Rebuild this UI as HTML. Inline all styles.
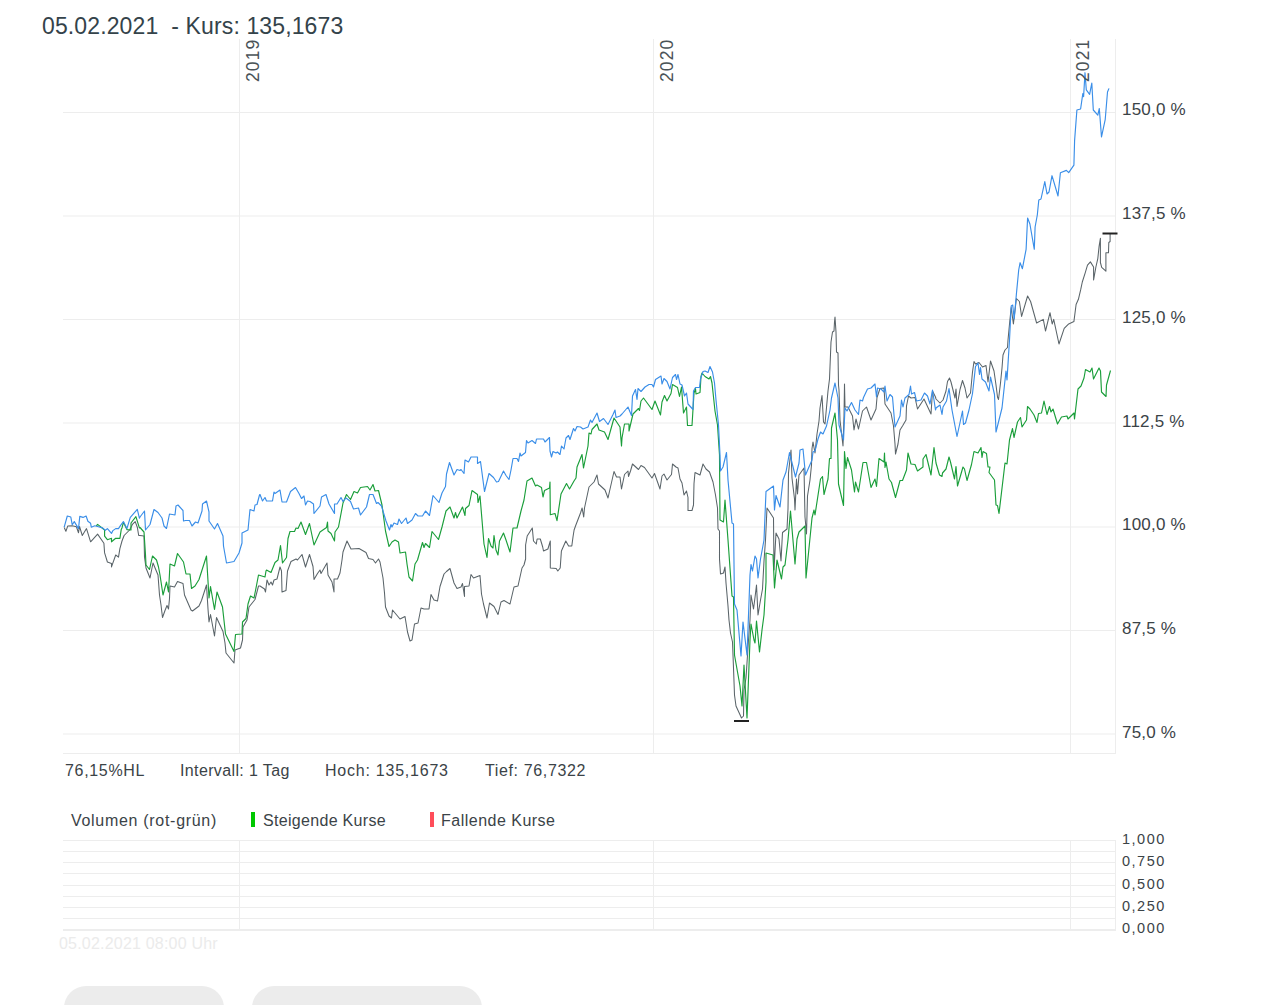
<!DOCTYPE html>
<html><head><meta charset="utf-8">
<style>
html,body{margin:0;padding:0;background:#fff;width:1262px;height:1005px;overflow:hidden;position:relative;font-family:"Liberation Sans",sans-serif;}
.t{position:absolute;white-space:pre;line-height:1;}
.title{left:42px;top:14.5px;font-size:23px;color:#34434a;letter-spacing:0.12px;}
.ax{font-size:17px;color:#3b4347;letter-spacing:0.2px;}
.info{font-size:16px;color:#3b4347;}
.vl{font-size:14.5px;color:#3b4347;letter-spacing:1.5px;}
.yr{font-size:17.5px;color:#4a5357;letter-spacing:1.1px;transform-origin:0 0;transform:rotate(-90deg);}
.btn{position:absolute;background:#ececec;border-radius:22px;top:986px;height:60px;}
</style></head><body>
<svg width="1262" height="1005" style="position:absolute;left:0;top:0">
<g stroke="#ededed" stroke-width="1" fill="none">
<line x1="63" y1="112.5" x2="1116" y2="112.5"/>
<line x1="63" y1="216" x2="1116" y2="216"/>
<line x1="63" y1="319.5" x2="1116" y2="319.5"/>
<line x1="63" y1="423" x2="1116" y2="423"/>
<line x1="63" y1="527" x2="1116" y2="527"/>
<line x1="63" y1="630.5" x2="1116" y2="630.5"/>
<line x1="63" y1="734" x2="1116" y2="734"/>
<line x1="239.5" y1="39" x2="239.5" y2="754"/>
<line x1="653.5" y1="39" x2="653.5" y2="754"/>
<line x1="1070.5" y1="39" x2="1070.5" y2="754"/>
<line x1="1115.5" y1="39" x2="1115.5" y2="754"/>
<line x1="63" y1="753.5" x2="1116" y2="753.5"/>
<line x1="63" y1="840.5" x2="1116" y2="840.5"/>
<line x1="63" y1="851.5" x2="1116" y2="851.5"/>
<line x1="63" y1="862.5" x2="1116" y2="862.5"/>
<line x1="63" y1="873.5" x2="1116" y2="873.5"/>
<line x1="63" y1="885.5" x2="1116" y2="885.5"/>
<line x1="63" y1="896.5" x2="1116" y2="896.5"/>
<line x1="63" y1="907.5" x2="1116" y2="907.5"/>
<line x1="63" y1="918.5" x2="1116" y2="918.5"/>
<line x1="239.5" y1="840" x2="239.5" y2="930"/>
<line x1="653.5" y1="840" x2="653.5" y2="930"/>
<line x1="1070.5" y1="840" x2="1070.5" y2="930"/>
<line x1="1115.5" y1="840" x2="1115.5" y2="931"/>
<line x1="63" y1="930" x2="1116" y2="930" stroke-width="2"/>
</g>
<g fill="none" stroke-width="1.15" stroke-linejoin="round">
<polyline stroke="#5a6469" stroke-width="1.05" points="64.2,527.5 65.9,531.3 67.7,526.1 72.2,525.8 76.4,526.8 78.5,532.7 79.5,526.5 82.3,535.5 86.5,528.6 90.6,541.8 97.6,534.1 103.9,543.2 104.6,552.9 107.4,562 111.5,563.4 111.5,566.9 115.7,555 118.5,557.1 119.9,548.7 122,541 124.1,535.5 129.6,530 132.4,524.4 135.2,521.6 137.3,527.2 138.7,535.5 140,535.5 144,536 144.5,557 146,568 150,578 153,563 158,575 159.5,595 161,605 162.5,617.5 165,610.5 167,605.5 168.5,609 169.5,598.5 170,586 174.5,587 177.5,581.5 183,583.5 184.5,595 191,610 192.5,611 199,606 201.5,600.5 206.5,585 208,609 209,622 210.5,614.5 214.5,636 216.5,617.5 223,631.5 225,643 226,653 234,663 235,650 240.5,648 242.5,640 243,627 247,620 249,607 255,599.5 258.5,586 260,586 264.5,589 265.5,592 267,580 269,585 271,582 272.5,585 274,580 277,579 280,567 281.5,571 282,592 286,590.5 287.5,571 291,561.5 296,559 297.5,560 302,554.5 305.5,567 309.5,554.5 313,566.5 314,579.5 317.5,573.5 320,570 321,573.5 327,563 328,575 332,582 334,592 334,579 337.5,579 340,573 342,560 343,552 347,541 351,549 359,548.5 366,552.5 368.5,558.5 373,559.5 375.5,563 378.5,559 380,562 383,578 384.5,593 385.5,607 389,616 391.5,618 392.5,610 397.5,616 400,619 405,616.5 407.5,632 410,641 412,640 414.5,624 418,623 421,608 424,609 429,609 431,594.5 434,600 437.5,601 440,586.5 444,574 446.5,571.5 450,568.5 454,583 457,588.5 461,587 462.5,583.5 464.5,596.5 464.5,586.5 469,586 471,574.5 473.5,578 480,575.5 481.5,594 483.5,604 487,618 489.5,603 494,606.5 498,614.5 501,602 504,600.5 510,604 514,587 518,586 522,568 524,565 525.6,559 525.6,545 527.2,536 532.3,528 533.5,541 536.3,544 537.1,539 540.3,539 542.7,547 543.5,551 547.9,549 550.3,541 550.3,568 556.2,568.5 557.8,571 560.2,568 561.4,551 565.8,541 568.6,546 571.8,546 573,537 574.1,530 575.7,525.5 580.5,513 582.1,508 583.7,517 584.5,508 589,487 594,482 597,475 598.5,484 605,490 608,498 614,471.5 616.5,477 620,477 621.5,489 624.5,474.5 628,471 628.5,476.5 630.5,471 632.5,464 638.5,469.5 641,465.5 644.5,467.5 652,478 654.5,473.5 660,489 662,476 664,474 667,480 671.5,474.5 672.5,464 676,467 678,468 680,479 682,483 684,495 686.5,491 688,497.5 688,510.5 692,510.5 693.5,505 694,483.5 695,472.5 700,475 703,464 706,469 709.5,472 713,482 715.5,495 717.5,508 718,529 719.5,531 719.5,559 720.5,574 723.5,573 725,567 726,583 728,606 729,620 730.5,633 732.5,642 733.5,668 734.5,695 736,706 741.5,718 743.5,716 744,690 746,678 748.5,640 750,620 751,595 753.5,609 755,597.5 756.5,585 758,615 760.5,600 762.5,589 764,561 765.5,540 767,508 773.5,518 774,570 776,533 779,539 781,561 782.5,532.5 787,529 788,509 788.5,473 791,450 792,478 794.5,499 795,510 796.5,479 797.5,494 799,475 804,468 805,517 806.5,534 807.5,496 810,480 811.5,465 812,448.5 813,442 815,453 817,434 819,421 820,408 822,395.5 823.5,422 825,424 826,413 828,391 829.5,379 831,342 832.5,332 834,331 834.5,322 835,317 836,332 836.5,352 838,353 838.5,385 839,390 840,420 843,446 844,416 844.5,384 845,407 848,407 852.5,416 854,430 856,419 858.5,429 862.5,411 866.5,407 871,420 876,409 877,397.5 880,388.5 884,388 885,404 891,413 893.5,426 895,444 895.5,454 898,444 900,430 902.5,426 906,420 906.5,406 908.5,396 911,398 915,397.5 917.5,409 924,399 931,414 932.5,391 935.5,397 936,399 940,403 943,400 946,391 947.5,381.5 949.5,378 951,382 955,398 956,389 957,406.5 960,389.5 962.5,380.5 965,388 967,398 970.5,393 972.5,372 974,361.5 975.5,364 979,362.5 982.5,367 986,365.5 988,382 990.5,361 994,371 996,385 997.5,397 998.5,399.5 1000.5,383 1002,368 1003,355 1005,350 1007.5,347.5 1008,340 1009.7,322 1011.2,307.5 1013.4,324 1016.4,298.5 1019.4,301.5 1021.6,316.4 1027.6,296 1030.6,301.5 1036.6,323 1043.3,319.4 1045.5,331 1050,312.7 1052.2,324 1053.7,319.4 1059,344 1064.2,328.4 1068.7,323.9 1073.9,321.6 1076.1,304.5 1078.4,299.3 1080.7,289.7 1082.3,282 1085.2,272.9 1087.5,265.1 1090.4,261.9 1093.6,267 1093.6,280 1095.9,267 1097.8,258.6 1099.1,246.3 1100.4,238.3 1100.4,262.5 1101.7,267.4 1105.9,271.2 1105.9,252.8 1108.5,252.8 1108.8,242.5 1110.1,241.5 1110.1,233.4 1110.4,233.6"/>
<polyline stroke="#1a9e3a" points="96.2,525.8 97.6,524.4 104.6,530 104.6,536.2 107.4,539.7 111.5,538.3 111.5,541.8 115.7,538.3 119.9,538.3 121.3,529.2 122,527.9 123.4,522.3 126.9,529.6 131,530 131,523 135.9,516.7 139.4,527.9 140,527.5 144,532 145.5,555 146,565 149.5,569.5 152.5,556 156.5,560 158.5,567 160,575 163,595 166.5,582 168.5,592 170,564 174.5,566 177.5,553.5 183.5,562 186,574 190,574 191.5,588.5 195,586 199,579.5 206.5,556 209,598 210.5,586.5 214.5,609.5 217,592 222.5,607 225.5,634 234,651.5 235.5,634.5 242,634 242.5,622 246,618.5 248,604 250.5,596 254,598 256,588 258.5,575 265,577 266,571 266.5,570 271,572.5 275,562.5 278,560 280.5,545.5 282.5,563 286.5,557.5 288,538.5 290,531.5 294.5,531.5 296,528 298,528.5 301,522 305.5,534.5 309.5,523.5 314,545 320,532 326.5,527.5 327.5,522 328,531 331,533.5 334.5,541 335,532 338.5,527 343,503 346.5,494.5 350.5,499.5 354,491.5 357.5,493 360.5,487.5 367.5,486.5 370,490 373,484.5 375,491 378.5,490.5 382,505 385.5,531 389,546.5 392,542 395,540 398.5,542 400,553 405.5,552 407,564 409,577 412.5,581 415,564 417.5,560 422.5,542.5 424,547.5 425.5,543.5 429.5,547.5 432,531.5 438.5,539.5 442,527 446,511 450,507 454,518 455.5,512.5 457,518 459,514 462.5,507 465,515.5 465.5,508.5 469,505.5 472,490.5 477.5,494.5 478,502.5 480,496 484,544 487,557.5 488.5,538.5 491,546 493,548 494,535.5 496,550 498,555 499.5,541 503.5,533 506,540 510,552 513,528 517,528 521,511 524,500 527,481 532,478 535.5,486 537,485 541.5,487.5 543,497 544.5,490.5 549.5,488 550,482 550.3,514.7 555,513.5 557,520.7 561,494 566.5,483.5 569.5,489 574,481 576,478 577,467 582,454.5 583.5,468 588,446 589,433 591,434 592,429.5 597,424 599,430 604.5,432 608,439.5 614,418 620,427 621.5,446 622,438 624.5,424 629,424 629,431 633,414 636,411 638.5,408.5 639.5,410.5 641,401 643.5,398 652,409.5 655,401 660.5,415 662,402 664.5,395.5 667,401 671,393.5 672.5,384.5 677.5,387.5 679.5,396.5 681.5,387 683.5,413 686.5,407 687.5,425.5 692,425.5 694,393 695.5,388.5 696,394 700,392.5 701,376.5 702,373 705,376.5 709,379 710.5,376.5 712,383 715,411 717.5,425 719.5,455 720,520 723.5,522 725,500 728,540 732,596 733.5,597 734.5,655 740,686 742,706 744,665 747,718 750,640 751,624 754,640 755,643 756.5,621 759.5,652 762,630 764,615 766,582 766,553 773,555 774.5,588 777,560 781.5,579 783,567 785,565 788,540 790.5,511 795,564 797,539 799,532 805,526 806,578 812,518 814,510 815,515 820.5,479 822.5,476.5 824,494.5 828,479 829.5,458.5 831,458.5 831.5,428 835,413 837.5,440 838.5,484 843.5,505.5 844.5,451.5 846,468.5 847.5,457.5 851.5,470 854.5,492 855.5,482 858.5,492 863,462.5 866.5,462.5 871,487.5 875,479 876.5,486.5 879,458.5 884,462 884.5,453 885,467.5 886,462 889,479 891.5,482.5 895.5,497.5 900,480.5 902.5,480.5 906.5,470 908,453 911,464 915,464.5 917.5,471 923,467 923,459 926,454.5 931,475 934,447.5 936,463 939.5,475 942,476.5 942.5,473 946,469 949,457 950.5,462 954.5,479 956,466.5 957.5,486 963,467 964.5,469 967,480.5 971.5,464.5 974,451.5 978,453 981,447.5 982,457.5 983,451.5 986.5,453.5 988,467 990,467 989,472.5 994.5,480 996,505 997.5,505.5 999,513.5 1005,463 1007,464 1009.5,440 1012.5,428.5 1014,437.5 1017.5,422 1020.5,417.5 1022,427 1026.5,420 1027.5,406.5 1030,409 1034,415 1037,422.5 1038.5,413.5 1041.5,413 1044,401 1047,414.5 1049.5,406.5 1051,412 1053,409 1057.5,424 1061.5,417 1067,416 1068,419 1074,413 1074.5,419 1078,389 1081,386 1084,378 1085.5,369.5 1090,372 1092,368 1093.5,379 1099,368 1100.5,371 1101.5,392 1106,396.5 1106.5,385 1110.5,370.5"/>
<polyline stroke="#3a8ee8" points="64.2,527.2 67.3,516 70.8,517 72.2,524.7 74.3,521.6 78.5,528.6 79.8,516.4 83,517.4 86.1,516 87.9,521.2 90.6,523.3 91.3,527.2 94.8,525.8 97.6,526.5 102.5,527.9 105.3,530.3 107.4,528.6 111.5,533.4 112.9,530.6 115.7,528.6 118.5,528.6 120.6,525.4 123.4,521.6 126.9,528.6 130.3,517.4 137.3,509.4 139.4,518.1 140,517 144.5,511 145.5,530 150,524.5 154,509.5 158,512.5 162,518 164,526 166.5,528.5 169.5,514 175,515 176,506 178,505 183,510.5 183.5,521 185.5,520.5 189.5,520.5 192,526 195.5,522 198,523 202,511 202.5,504 206.5,501 209,512 209,521 214.5,529 217.5,523.5 223,536 223.5,546 226.5,563 234,561.5 239,553 242,543 242,533 248,530 250,509.5 254,511 255,505 257,504.5 259.5,495 260,494.5 262.5,501 265,497.5 266.5,501 272.5,501 274,492 275,493.5 280,490 282,502 286.5,502 290.5,491.5 295.5,487.5 299,493.5 301.5,498.5 304,496 305.5,505 307.5,501 310,501.5 313.5,504 314,513.5 320,506 321.5,497 326,494.5 329,504 334.5,513.5 334.5,504 337,504 341,497.5 343,501.5 346,498 350.5,501.5 353.5,509 358.5,508 360.5,515 366.5,507 369.5,494.5 373,494.5 376.5,503.5 378,502.5 381.5,506 386,521 389.5,530 391,524.5 392,527 394,523 397.5,524.5 399,519 401.5,523.5 406,518 407.5,523.5 412,520 415.5,513.5 418,516 422.5,516 425.5,511 429.5,515.5 433,495.5 439,502.5 442,493 445.5,486.5 446.5,474 449.5,462.5 454,475 457,469.5 460,470.5 461,469.5 464,473.5 465,460 468.5,462 471,457 477.5,457 477.5,463.5 480.5,461.5 484.5,491.5 489,473.5 493.5,477.5 496.5,482 498.5,481.5 503.5,471 506,475.5 509,479.5 511,470 513,458.5 517,458.5 518.5,461.5 520,453 521,456 525.5,452.5 526.5,440.5 528,443 532,440.5 535.5,443.5 536.5,439 543.5,439 545,442 549.5,437.5 550,451 551.5,457 553,451.5 556,453 557.5,452 560,454.5 561.5,446 564,449 566,438 568.5,435.5 570,439.5 573.5,428.5 575,431 577,426.5 580.5,427 583,429 588,427 590.5,420 592,422.5 597,413 599.5,421.5 603.5,418.5 608,424.5 613,414.5 615,410 616,417.5 620,416 622,414 628,407 629,409.5 631.5,415.5 632.5,396 635.5,389.5 637,399.5 638,388.5 641,391.5 645,387 649,384.5 652,384.5 653.5,387 655.5,379.5 661,376 662,384 664,378.5 667,381.5 670,389 672.5,377.5 675.5,374.5 676.5,379.5 678,374.5 680,384 682,385 684.5,396 686.5,393 688,404 693,409.5 693.5,391 695.5,387.5 699.5,387.5 700.5,379 703,371.5 705,371 708,372.5 710,366.5 712.5,372 714.5,383 716,400 718.5,425 720,455 720.5,471 723,467 726.5,452.5 728,480 732,523 733.5,524 734.5,604 737,610 741,656 743,622 747,655 749,602 750,575 751,564.5 752.5,571 755,556 756.5,559 758,578 760.5,559 764,540 766,491.5 773.5,486 774.5,510 776,495.5 780,507 783,480 786,472 789.5,452.5 795.5,477 799,463 800,450 803,449 805.5,475 812,460 813,452 815,451 818,439 820.5,432 823,434 826.5,426 830,410 831.5,398 835,383 838,398 839,425 843.5,440 845,408 847,411 851.5,402.5 855,410 858.5,414.5 860,400 862.5,401 863.5,397.5 867.5,389 871,388 875,384 876.5,397 877.5,388 881,389 884,392 885,386 887,401 890,394.5 892.5,397 895,427 900,416 901.5,400 903,407 905,398 909,394.5 910.5,386 911.5,394 914.5,392.5 916.5,401 921,400 924.5,393 927.5,396 930,404 932.5,390 935.5,410 936,408 940,405 942,414.5 943,407 946.5,401 949,388.5 952,410 957,436.5 962.5,411 963.5,424.5 965.5,423 969,410 972.5,393.5 975.5,366.5 978,363 979.5,374.5 980.5,367.5 982,379 985.5,382 989,391 990.5,377 994.5,394.5 996,432 1002,408 1006,371 1007,380 1009.5,340 1010,330 1011.2,306 1012.7,305 1014.2,319 1016.4,294 1018.7,270 1020.1,262.7 1022.4,268.7 1026.1,249.3 1027.6,218 1029.9,224 1034.3,249.3 1035.1,227 1037.3,215 1038.8,200 1041,199 1044.8,181.6 1047,194 1049,192 1052,175.7 1058,196 1060.4,172.7 1066.4,170.4 1068.7,172.7 1073.9,165.2 1074.6,140.6 1076.9,110 1080.6,109 1082.8,93.6 1083.6,96.6 1085,72.7 1086.3,89.9 1089.6,94.3 1091.8,83 1093.3,110 1097.8,115.2 1099.3,108.5 1101.5,136.9 1105.2,119.7 1107.5,92 1109,88.4"/>
</g>
<g stroke="#222" stroke-width="2">
<line x1="1102.5" y1="233.5" x2="1117.5" y2="233.5"/>
<line x1="734" y1="721" x2="749" y2="721"/>
</g>
<rect x="251" y="812" width="4" height="15" fill="#00c800"/>
<rect x="430" y="812" width="4" height="15" fill="#ff4d5a"/>
</svg>
<div class="t title">05.02.2021&nbsp; - Kurs: 135,1673</div>
<div class="t yr" style="left:245px;top:82px">2019</div>
<div class="t yr" style="left:659px;top:82px">2020</div>
<div class="t yr" style="left:1075px;top:82px">2021</div>
<div class="t ax" style="left:1122px;top:101px">150,0 %</div>
<div class="t ax" style="left:1122px;top:205px">137,5 %</div>
<div class="t ax" style="left:1122px;top:309px">125,0 %</div>
<div class="t ax" style="left:1122px;top:413px">112,5 %</div>
<div class="t ax" style="left:1122px;top:516px">100,0 %</div>
<div class="t ax" style="left:1122px;top:620px">87,5 %</div>
<div class="t ax" style="left:1122px;top:724px">75,0 %</div>
<div class="t info" style="left:65px;top:763px;letter-spacing:0.67px">76,15%HL</div>
<div class="t info" style="left:180px;top:763px;letter-spacing:0.37px">Intervall: 1 Tag</div>
<div class="t info" style="left:325px;top:763px;letter-spacing:0.77px">Hoch: 135,1673</div>
<div class="t info" style="left:485px;top:763px;letter-spacing:0.63px">Tief: 76,7322</div>
<div class="t info" style="left:71px;top:813px;letter-spacing:0.7px">Volumen (rot-grün)</div>
<div class="t info" style="left:263px;top:813px;letter-spacing:0.31px">Steigende Kurse</div>
<div class="t info" style="left:441px;top:813px;letter-spacing:0.49px">Fallende Kurse</div>
<div class="t vl" style="left:1122px;top:832px">1,000</div>
<div class="t vl" style="left:1122px;top:854px">0,750</div>
<div class="t vl" style="left:1122px;top:877px">0,500</div>
<div class="t vl" style="left:1122px;top:899px">0,250</div>
<div class="t vl" style="left:1122px;top:921px">0,000</div>
<div class="t" style="left:59px;top:936px;font-size:16px;letter-spacing:0.2px;color:#ebebeb">05.02.2021 08:00 Uhr</div>
<div class="btn" style="left:64px;width:159.5px"></div>
<div class="btn" style="left:252px;width:230px"></div>
</body></html>
